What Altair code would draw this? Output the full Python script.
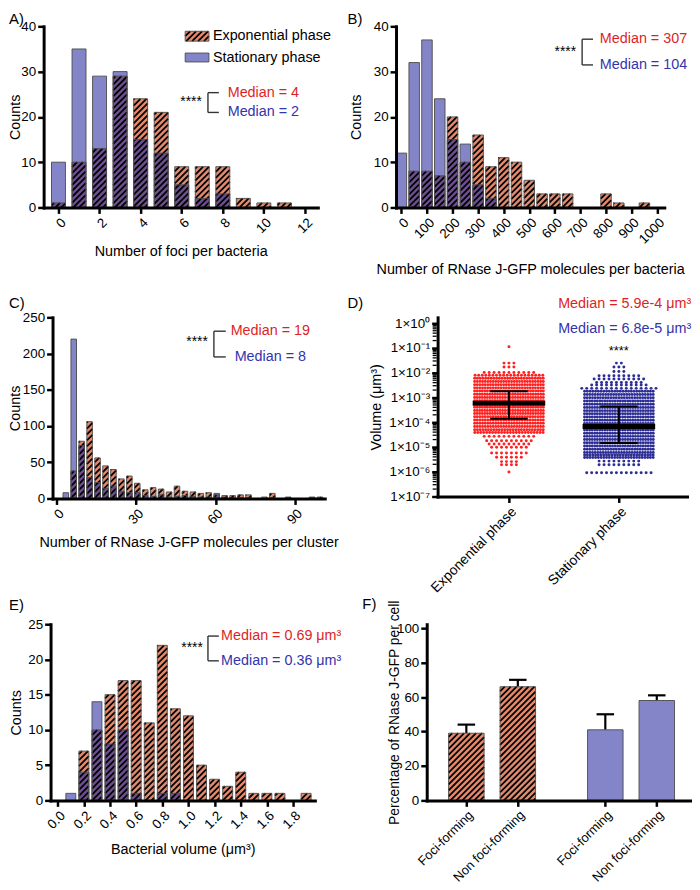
import math
import altair as alt
import numpy as np
import pandas as pd

FONT = "Liberation Sans"
ORANGE = "#E38A6D"
PURPLE = "#8484C8"
OVERLAP = "#6C4F8F"
EDGE = "#4a4a4a"
RED_TXT = "#DD1F26"
BLUE_TXT = "#3434AC"
RED_PT = "#FF2020"
BLUE_PT = "#2D2D96"

# ---------------- data ----------------
# A) foci per bacteria
a_centers = [0, 1, 2, 3, 4, 5, 6, 7, 8, 9, 10, 11]
a_exp = [1, 10, 13, 29, 24, 21, 9, 9, 9, 2, 1, 1]
a_stat = [10, 35, 29, 30, 15, 12, 5, 2, 3, 0, 0, 0]

# B) RNase J-GFP molecules per bacteria
b_centers = [0, 50, 100, 150, 200, 250, 300, 350, 400, 450, 500, 550, 600, 650, 700, 750, 800, 850, 900, 950]
b_exp = [0, 8, 8, 7, 20, 10, 16, 9, 11, 10, 6, 3, 3, 3, 0, 0, 3, 1, 0, 1]
b_stat = [12, 32, 37, 24, 15, 14, 5, 2, 0, 0, 0, 0, 0, 0, 0, 0, 0, 0, 0, 0]

# C) molecules per cluster
c_centers = [3.5, 6.5, 9.5, 12.5, 15.5, 18.5, 21.5, 24.5, 27.5, 30.5, 33.5, 36.5, 39.5, 42.5, 45.5,
             48.5, 51.5, 54.5, 57.5, 60.5, 63.5, 66.5, 69.5, 72.5, 78.5, 81.5, 87.5, 96.5, 99.5]
c_exp = [0, 38, 79, 106, 56, 45, 40, 27, 31, 21, 12, 15, 13, 9, 17, 10, 9, 7, 8, 5, 4, 4, 5, 5, 2, 7, 2, 2, 2]
c_stat = [8, 220, 73, 29, 22, 14, 17, 10, 8, 8, 4, 3, 5, 2, 3, 4, 3, 2, 2, 7, 2, 1, 1, 1, 0, 1, 1, 1, 0]

# D) cluster volume swarm: row levels (log10 um^3) and number of points per row
d_groups = ["Exponential phase", "Stationary phase"]
d_exp_log = [-0.95, -1.61, -1.77, -1.99, -2.10, -2.22, -2.35, -2.48, -2.61, -2.74, -2.87, -3.00, -3.13,
             -3.26, -3.39, -3.52, -3.65, -3.78, -3.91, -4.04, -4.17, -4.30, -4.41, -4.57, -4.75, -4.88,
             -5.01, -5.24, -5.41, -5.59, -5.72, -6.01]
d_exp_n = [1, 3, 3, 11, 20, 26, 27, 27, 27, 28, 28, 28, 28, 28, 28, 28, 28, 27, 27, 27, 27, 26, 24,
           11, 10, 9, 8, 8, 6, 4, 4, 1]
d_stat_log = [-1.61, -1.77, -1.95, -2.12, -2.25, -2.39, -2.49, -2.63, -2.75, -2.88, -3.01, -3.14, -3.27,
              -3.40, -3.53, -3.66, -3.79, -3.92, -4.05, -4.18, -4.31, -4.44, -4.57, -4.70, -4.83, -4.96,
              -5.09, -5.22, -5.32, -5.42, -5.57, -5.72, -6.04]
d_stat_n = [2, 3, 3, 9, 11, 10, 12, 16, 26, 27, 27, 28, 28, 28, 28, 28, 28, 28, 28, 28, 28, 28, 28, 28,
            28, 28, 27, 27, 26, 26, 9, 9, 14]
d_median = [5.9e-4, 6.8e-5]
d_q1 = [1.4e-4, 1.45e-5]
d_q3 = [1.8e-3, 4.3e-4]

# E) bacterial volume
e_centers = [0.1, 0.2, 0.3, 0.4, 0.5, 0.6, 0.7, 0.8, 0.9, 1.0, 1.1, 1.2, 1.3, 1.4, 1.5, 1.6, 1.7, 1.8, 1.9]
e_exp = [0, 7, 10, 15, 17, 17, 11, 22, 13, 12, 5, 3, 2, 4, 1, 1, 1, 0, 1]
e_stat = [1, 4, 14, 8, 10, 1, 0, 1, 1, 0, 0, 0, 0, 0, 0, 0, 0, 0, 0]

# F) percentage of RNase J-GFP per cell
f_cat = ["Foci-forming", "Non foci-forming", "Foci-forming", "Non foci-forming"]
f_phase = ["Exponential", "Exponential", "Stationary", "Stationary"]
f_mean = [39, 66, 41, 58]
f_top = [44, 70, 50, 61]

# layout (positions of F bars on the x scale)
f_pos = [0, 1, 2.7, 3.7]

HATCH_W = 1.8


# ---------------- helpers ----------------
def ax(**kw):
    base = dict(zindex=1, labelFlush=False, labelOverlap=False, domainCap="square")
    base.update(kw)
    return alt.Axis(**base)


def hatch_df(rects, xd, yd, W, H, period=6.0):
    kx = W / (xd[1] - xd[0])
    ky = H / (yd[1] - yd[0])
    rows = []
    for (x0, x1, y0, y1) in rects:
        if y1 <= y0:
            continue
        X0 = (x0 - xd[0]) * kx
        X1 = (x1 - xd[0]) * kx
        Y0 = (y0 - yd[0]) * ky
        Y1 = (y1 - yd[0]) * ky
        k0 = math.ceil((X0 - Y1) / period)
        k1 = math.floor((X1 - Y0) / period)
        for k in range(k0, k1 + 1):
            c = k * period
            xa = max(X0, Y0 + c)
            xb = min(X1, Y1 + c)
            if xb - xa < 0.4:
                continue
            rows.append({"hx": xd[0] + xa / kx, "hy": yd[0] + (xa - c) / ky,
                         "hx2": xd[0] + xb / kx, "hy2": yd[0] + (xb - c) / ky})
    return pd.DataFrame(rows)


def ann_text(s, x, y, color="black", size=14.5, align="center"):
    return alt.Chart(pd.DataFrame({"t": [s]})).mark_text(
        font=FONT, fontSize=size, color=color, align=align, baseline="middle"
    ).encode(text="t:N", x=alt.value(x), y=alt.value(y))


def ann_rule(x, x2, y, y2, color="#333333", w=1.4):
    return alt.Chart(pd.DataFrame({"z": [0]})).mark_rule(color=color, strokeWidth=w).encode(
        x=alt.value(x), x2=alt.value(x2), y=alt.value(y), y2=alt.value(y2))


def stat_block(stars_x, stars_y, br_x, br_arm, y_top, y_bot, med_x, t_top, t_bot):
    return [
        ann_text("****", stars_x, stars_y, size=14),
        ann_rule(br_x, br_x, y_top, y_bot),
        ann_rule(br_x, br_arm, y_top, y_top),
        ann_rule(br_x, br_arm, y_bot, y_bot),
        ann_text(t_top, med_x, y_top, color=RED_TXT),
        ann_text(t_bot, med_x, y_bot, color=BLUE_TXT),
    ]


def hist_layers(centers, exp, stat, bw, xd, yd, W, H, xaxis, yaxis):
    df = pd.DataFrame({"c": centers, "exp": exp, "stat": stat})
    df["x0"] = df["c"] - bw / 2
    df["x1"] = df["c"] + bw / 2
    df["ov"] = np.minimum(df["exp"], df["stat"])
    xs = alt.Scale(domain=list(xd), nice=False, zero=False)
    ys = alt.Scale(domain=list(yd), nice=False, zero=False)

    def enc(f):
        return dict(x=alt.X("x0:Q", scale=xs, axis=xaxis), x2="x1:Q",
                    y=alt.Y(f + ":Q", scale=ys, axis=yaxis), y2=alt.datum(0))

    base = alt.Chart(df)
    layers = [
        base.transform_filter("datum.stat > 0").mark_rect(fill=PURPLE).encode(**enc("stat")),
        base.transform_filter("datum.exp > 0").mark_rect(fill=ORANGE).encode(**enc("exp")),
        base.transform_filter("datum.ov > 0").mark_rect(fill=OVERLAP).encode(**enc("ov")),
    ]
    rects = [(r.x0, r.x1, 0, r.exp) for r in df.itertuples()]
    hd = hatch_df(rects, xd, yd, W, H)
    layers.append(alt.Chart(hd).mark_rule(color="black", strokeWidth=HATCH_W).encode(
        x=alt.X("hx:Q", scale=xs, axis=xaxis), x2="hx2:Q",
        y=alt.Y("hy:Q", scale=ys, axis=yaxis), y2="hy2:Q"))
    layers.append(base.transform_filter("datum.stat > 0").mark_rect(
        fill=PURPLE, fillOpacity=0, stroke=EDGE, strokeWidth=0.9).encode(**enc("stat")))
    layers.append(base.transform_filter("datum.exp > 0").mark_rect(
        fill=ORANGE, fillOpacity=0, stroke=EDGE, strokeWidth=0.9).encode(**enc("exp")))
    return layers, xs, ys


def spacer(w, h):
    return alt.Chart(pd.DataFrame({"z": [0]})).mark_point(opacity=0, size=1).encode(
        x=alt.value(0), y=alt.value(0)).properties(width=w, height=h)


def px2x(px, xd, W):
    return xd[0] + px * (xd[1] - xd[0]) / W


def px2y(py, yd, H):
    return yd[1] - py * (yd[1] - yd[0]) / H


# ---------------- panel A ----------------
A_W, A_H = 277, 183
A_XD, A_YD = (-0.723, 12.627), (0, 40)
a_x = ax(values=[0, 2, 4, 6, 8, 10, 12], labelAngle=-45, title="Number of foci per bacteria",
         titleY=45, titleBaseline="middle")
a_y = ax(values=[0, 10, 20, 30, 40], title="Counts", titleX=-28, titleBaseline="middle")
a_layers, a_xs, a_ys = hist_layers(a_centers, a_exp, a_stat, 0.68, A_XD, A_YD, A_W, A_H, a_x, a_y)

sw = pd.DataFrame({"x0": [px2x(143, A_XD, A_W)] * 2, "x1": [px2x(167, A_XD, A_W)] * 2,
                   "y0": [px2y(15, A_YD, A_H), px2y(36, A_YD, A_H)],
                   "y1": [px2y(5, A_YD, A_H), px2y(27, A_YD, A_H)],
                   "k": ["e", "s"]})
sw_enc = dict(x=alt.X("x0:Q", scale=a_xs, axis=a_x), x2="x1:Q",
              y=alt.Y("y0:Q", scale=a_ys, axis=a_y), y2="y1:Q")
sw_h = hatch_df([(sw.x0[0], sw.x1[0], sw.y0[0], sw.y1[0])], A_XD, A_YD, A_W, A_H)
a_layers += [
    alt.Chart(sw).transform_filter("datum.k == 'e'").mark_rect(fill=ORANGE).encode(**sw_enc),
    alt.Chart(sw).transform_filter("datum.k == 's'").mark_rect(fill=PURPLE).encode(**sw_enc),
    alt.Chart(sw_h).mark_rule(color="black", strokeWidth=HATCH_W).encode(
        x=alt.X("hx:Q", scale=a_xs, axis=a_x), x2="hx2:Q",
        y=alt.Y("hy:Q", scale=a_ys, axis=a_y), y2="hy2:Q"),
    alt.Chart(sw).mark_rect(fill=PURPLE, fillOpacity=0, stroke=EDGE, strokeWidth=0.9).encode(**sw_enc),
    ann_text("Exponential phase", 171, 10, size=14.5, align="left"),
    ann_text("Stationary phase", 171, 32, size=14.5, align="left"),
    ann_text("A)", -35, -7, size=15, align="left"),
]
a_layers += stat_block(149, 76, 166, 177, 67, 87, 222, "Median = 4", "Median = 2")
A = alt.layer(*a_layers).properties(width=A_W, height=A_H)

# ---------------- panel B ----------------
B_W, B_H = 271, 183
B_XD, B_YD = (-21, 1027.8), (0, 40)
b_x = ax(values=list(range(0, 1001, 100)), labelAngle=-45, format="d",
         title="Number of RNase J-GFP molecules per bacteria", titleY=63, titleBaseline="middle")
b_y = ax(values=[0, 10, 20, 30, 40], title="Counts", titleX=-40, titleBaseline="middle")
b_layers, _, _ = hist_layers(b_centers, b_exp, b_stat, 41, B_XD, B_YD, B_W, B_H, b_x, b_y)
b_layers += [ann_text("B)", -49, -7, size=15, align="left")]
b_layers += stat_block(171, 26, 188, 199, 13, 39, 250, "Median = 307", "Median = 104")
B = alt.layer(*b_layers).properties(width=B_W, height=B_H)

# ---------------- panel C ----------------
C_W, C_H = 275, 183
C_XD, C_YD = (-1.5, 101.3), (0, 250)
c_x = ax(values=[0, 30, 60, 90], labelAngle=-45,
         title="Number of RNase J-GFP molecules per cluster", titleY=45, titleBaseline="middle")
c_y = ax(values=[0, 50, 100, 150, 200, 250], title="Counts", titleX=-37, titleBaseline="middle")
c_layers, _, _ = hist_layers(c_centers, c_exp, c_stat, 2.1, C_XD, C_YD, C_W, C_H, c_x, c_y)
c_layers += [ann_text("C)", -44, -14, size=15, align="left")]
c_layers += stat_block(146, 25, 163, 175, 14, 40, 220, "Median = 19", "Median = 8")
C = alt.layer(*c_layers).properties(width=C_W, height=C_H)

# ---------------- panel D ----------------
D_W, D_H = 252, 181
D_XD, D_YD = (-0.649, 1.62), (1e-7, 1.738)
d_kx = D_W / (D_XD[1] - D_XD[0])
pts = []
for g, (levels, counts) in enumerate([(d_exp_log, d_exp_n), (d_stat_log, d_stat_n)]):
    for lv, n in zip(levels, counts):
        sp = 5.0 if n <= 16 else 72.0 / n
        for j in range(n):
            pts.append({"px": g + (j - (n - 1) / 2) * sp / d_kx, "v": 10 ** lv, "grp": d_groups[g]})
d_pts = pd.DataFrame(pts)

# minor log ticks (2..9 x 10^e)
d_minor = pd.DataFrame({"v": [m * 10.0 ** e for e in range(-7, 0) for m in range(2, 10)]})

SUP = {"0": "⁰", "1": "¹", "2": "²", "3": "³", "4": "⁴", "5": "⁵", "6": "⁶", "7": "⁷",
       "8": "⁸", "9": "⁹", "-": "⁻"}
chain = []
for e in range(0, -7, -1):
    lab = "1×10" + "".join(SUP[ch] for ch in str(e))
    chain.append(f"datum.value > {0.5 * 10 ** e:.10f} ? '{lab}' : ")
d_label_expr = "".join(chain) + "'1×10⁻⁷'"

d_xs = alt.Scale(domain=list(D_XD), nice=False, zero=False)
d_ys = alt.Scale(type="log", domain=list(D_YD), nice=False)
d_x = ax(values=[0, 1], labelAngle=-45, title=None, labelFontSize=14,
         labelExpr="datum.value < 0.5 ? 'Exponential phase' : 'Stationary phase'")
d_y = ax(values=[10.0 ** e for e in range(-7, 1)], labelExpr=d_label_expr, title="Volume (μm³)",
         titleX=-62, titleBaseline="middle")

d_stats = pd.DataFrame({"g": [0, 1], "med": d_median, "q1": d_q1, "q3": d_q3})
d_stats["m0"] = d_stats["g"] - 0.33
d_stats["m1"] = d_stats["g"] + 0.33
d_stats["c0"] = d_stats["g"] - 0.17
d_stats["c1"] = d_stats["g"] + 0.17

d_layers = [
    alt.Chart(d_minor).mark_rule(color="black", strokeWidth=1.3).encode(
        x=alt.value(-5), x2=alt.value(-1), y=alt.Y("v:Q", scale=d_ys, axis=d_y)),
    alt.Chart(d_pts).mark_circle(size=9, opacity=1).encode(
        x=alt.X("px:Q", scale=d_xs, axis=d_x), y=alt.Y("v:Q", scale=d_ys, axis=d_y),
        color=alt.Color("grp:N", scale=alt.Scale(domain=d_groups, range=[RED_PT, BLUE_PT]), legend=None)),
    alt.Chart(d_stats).mark_rule(color="black", strokeWidth=5).encode(
        x=alt.X("m0:Q", scale=d_xs, axis=d_x), x2="m1:Q", y=alt.Y("med:Q", scale=d_ys, axis=d_y)),
    alt.Chart(d_stats).mark_rule(color="black", strokeWidth=2).encode(
        x=alt.X("g:Q", scale=d_xs, axis=d_x), y=alt.Y("q1:Q", scale=d_ys, axis=d_y), y2="q3:Q"),
    alt.Chart(d_stats).mark_rule(color="black", strokeWidth=2).encode(
        x=alt.X("c0:Q", scale=d_xs, axis=d_x), x2="c1:Q", y=alt.Y("q1:Q", scale=d_ys, axis=d_y)),
    alt.Chart(d_stats).mark_rule(color="black", strokeWidth=2).encode(
        x=alt.X("c0:Q", scale=d_xs, axis=d_x), x2="c1:Q", y=alt.Y("q3:Q", scale=d_ys, axis=d_y)),
    ann_text("D)", -91, -14, size=15, align="left"),
    ann_text("Median = 5.9e-4 μm³", 189, -13, color=RED_TXT),
    ann_text("Median = 6.8e-5 μm³", 189, 12, color=BLUE_TXT),
    ann_text("****", 183, 34, size=13),
]
D = alt.layer(*d_layers).properties(width=D_W, height=D_H)

# ---------------- panel E ----------------
E_W, E_H = 267, 178
E_XD, E_YD = (-0.055, 1.967), (0, 25)
e_x = ax(values=[0.0, 0.2, 0.4, 0.6, 0.8, 1.0, 1.2, 1.4, 1.6, 1.8], labelAngle=-45, format=".1f",
         title="Bacterial volume (μm³)", titleY=50, titleBaseline="middle")
e_y = ax(values=[0, 5, 10, 15, 20, 25], title="Counts", titleX=-34, titleBaseline="middle")
e_layers, _, _ = hist_layers(e_centers, e_exp, e_stat, 0.076, E_XD, E_YD, E_W, E_H, e_x, e_y)
e_layers += [ann_text("E)", -42, -19, size=15, align="left")]
e_layers += stat_block(143, 24, 159, 170, 12, 37, 233, "Median = 0.69 μm³", "Median = 0.36 μm³")
E = alt.layer(*e_layers).properties(width=E_W, height=E_H)

# ---------------- panel F ----------------
F_W, F_H = 267, 178
F_XD, F_YD = (-0.77, 4.365), (0, 102.3)
f_df = pd.DataFrame({"pos": f_pos, "mean": f_mean, "top": f_top, "phase": f_phase, "cat": f_cat})
f_df["x0"] = f_df["pos"] - 0.345
f_df["x1"] = f_df["pos"] + 0.345
f_df["c0"] = f_df["pos"] - 0.17
f_df["c1"] = f_df["pos"] + 0.17
f_expr = ""
for i in range(len(f_pos) - 1):
    f_expr += f"datum.value < {(f_pos[i] + f_pos[i + 1]) / 2} ? '{f_cat[i]}' : "
f_expr += f"'{f_cat[-1]}'"
f_xs = alt.Scale(domain=list(F_XD), nice=False, zero=False)
f_ys = alt.Scale(domain=list(F_YD), nice=False, zero=False)
f_x = ax(values=f_pos, labelAngle=-45, labelExpr=f_expr, title=None, labelFontSize=13)
f_y = ax(values=[0, 20, 40, 60, 80, 100], title="Percentage of RNase J-GFP per cell",
         titleX=-33, titleBaseline="middle", titleFontSize=14)
f_enc = dict(x=alt.X("x0:Q", scale=f_xs, axis=f_x), x2="x1:Q",
             y=alt.Y("mean:Q", scale=f_ys, axis=f_y), y2=alt.datum(0))
f_exp_rects = [(r.x0, r.x1, 0, r.mean) for r in f_df.itertuples() if r.phase == "Exponential"]
f_h = hatch_df(f_exp_rects, F_XD, F_YD, F_W, F_H)
f_layers = [
    alt.Chart(f_df).mark_rule(color="black", strokeWidth=2.2).encode(
        x=alt.X("pos:Q", scale=f_xs, axis=f_x), y=alt.Y("mean:Q", scale=f_ys, axis=f_y), y2="top:Q"),
    alt.Chart(f_df).mark_rule(color="black", strokeWidth=2.2).encode(
        x=alt.X("c0:Q", scale=f_xs, axis=f_x), x2="c1:Q", y=alt.Y("top:Q", scale=f_ys, axis=f_y)),
    alt.Chart(f_df).transform_filter("datum.phase == 'Exponential'").mark_rect(fill=ORANGE).encode(**f_enc),
    alt.Chart(f_df).transform_filter("datum.phase == 'Stationary'").mark_rect(fill=PURPLE).encode(**f_enc),
    alt.Chart(f_h).mark_rule(color="black", strokeWidth=HATCH_W).encode(
        x=alt.X("hx:Q", scale=f_xs, axis=f_x), x2="hx2:Q",
        y=alt.Y("hy:Q", scale=f_ys, axis=f_y), y2="hy2:Q"),
    alt.Chart(f_df).mark_rect(fill=ORANGE, fillOpacity=0, stroke=EDGE, strokeWidth=0.9).encode(**f_enc),
    ann_text("F)", -65, -20, size=15, align="left"),
]
F = alt.layer(*f_layers).properties(width=F_W, height=F_H)

# ---------------- assemble ----------------
row1 = alt.hconcat(A, spacer(79, 1), B, spacing=0, bounds="flush")
row2 = alt.hconcat(spacer(9, 1), C, spacer(114, 1), D, spacing=0, bounds="flush")
row3 = alt.hconcat(spacer(7, 1), E, spacer(113, 1), F, spacing=0, bounds="flush")

chart = alt.vconcat(row1, alt.vconcat(row2, row3, spacing=2), spacing=20).properties(
    padding={"left": 0, "top": 0, "right": 0, "bottom": 0},
    autosize=alt.AutoSizeParams(type="pad", contains="padding"),
    background="white"
).configure_axis(
    domainColor="black", domainWidth=3, tickColor="black", tickWidth=2.5, tickSize=6,
    labelColor="black", titleColor="black", labelFont=FONT, titleFont=FONT,
    labelFontSize=13.5, titleFontSize=14.5, titleFontWeight="normal", grid=False, labelPadding=2
).configure_view(stroke=None)

chart.save("out.html", embed_options={"renderer": "svg", "actions": False})
